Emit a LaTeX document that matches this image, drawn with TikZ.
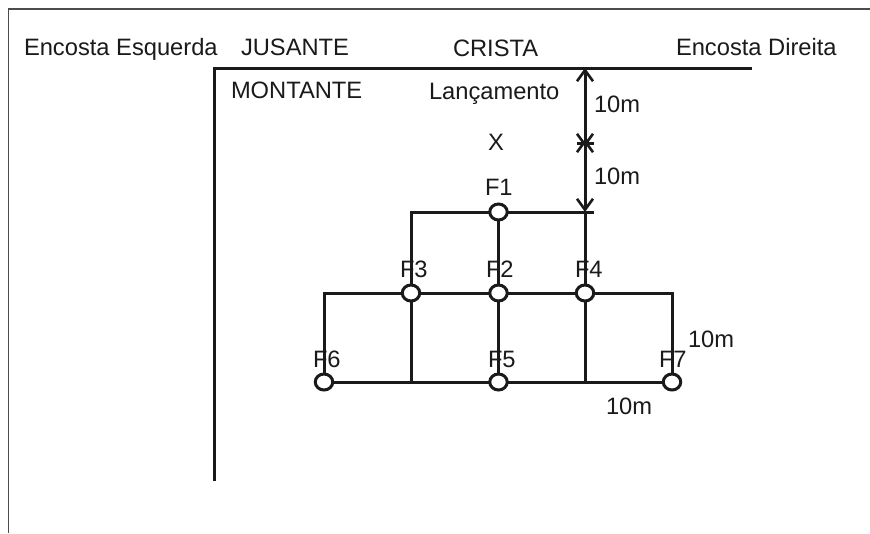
\documentclass[tikz,border=0pt]{standalone}
\usepackage{fontspec}
\setmainfont{Liberation Sans}
\usetikzlibrary{arrows.meta,shapes.geometric}
\definecolor{ink}{HTML}{1A1A1A}
\tikzset{
  lbl/.style={anchor=base west,inner sep=0pt,outer sep=0pt,text=ink,font=\fontsize{23.7}{26}\selectfont},
  wire/.style={draw=ink,line width=3pt},
  hole/.style={ellipse,draw=ink,fill=white,line width=3pt,minimum width=17.5pt,minimum height=16pt,inner sep=0pt,outer sep=0pt},
  dim/.style={wire,{Straight Barb[length=11pt,width=16pt,line width=2.6pt]}-{Straight Barb[length=11pt,width=16pt,line width=2.6pt]}},
  frameline/.style={draw=black!70,line width=1.6pt}
}
\begin{document}
\begin{tikzpicture}[x=1pt,y=-1pt]
\useasboundingbox (0,0) rectangle (870,533);
\fill[white] (0,0) rectangle (870,533);
% corners and free ends
\coordinate (fb) at (8.5,533);
\coordinate (ftl) at (8.5,9);
\coordinate (fr) at (870,9);
\coordinate (wb) at (214,481);
\coordinate (wt) at (214,68);
\coordinate (cr) at (752,68);
\coordinate (crA) at (585,68);
\coordinate (midA) at (585,147);
\coordinate (midB) at (585,139);
\coordinate (midL) at (577,143);
\coordinate (midR) at (594,143);
\coordinate (tee) at (585,212);
\coordinate (teeR) at (594,212);
\coordinate (c1) at (411,212);
\coordinate (l2) at (324,293);
\coordinate (r2) at (672,293);
\coordinate (j3) at (411,381.5);
\coordinate (j4) at (585,381.5);
% holes
\node[hole] (F1) at (498.5,212) {};
\node[hole] (F3) at (411,293) {};
\node[hole] (F2) at (498.5,293) {};
\node[hole] (F4) at (585,293) {};
\node[hole] (F6) at (324,382) {};
\node[hole] (F5) at (498.5,382) {};
\node[hole] (F7) at (672,382) {};
% frame
\draw[frameline] (fb) -- (ftl) -- (fr);
% crest and left wall
\draw[wire] (wb) -- (wt) -- (cr);
% dimension arrows
\draw[dim] (crA) -- (midA);
\draw[dim] (midB) -- (tee);
\draw[wire] (midL) -- (midR);
% network
\draw[wire] (F3) -- (c1) -- (F1);
\draw[wire] (F1) -- (teeR);
\draw[wire] (F1) -- (F2);
\draw[wire] (tee) -- (F4);
\draw[wire] (F3) -- (F2);
\draw[wire] (F2) -- (F4);
\draw[wire] (F3) -- (l2) -- (F6);
\draw[wire] (F4) -- (r2) -- (F7);
\draw[wire] (F6) -- (F5);
\draw[wire] (F5) -- (F7);
\draw[wire] (F2) -- (F5);
\draw[wire] (F3) -- (j3);
\draw[wire] (F4) -- (j4);
% labels
\node[lbl] (t1) at (24,55.5) {Encosta Esquerda};
\node[lbl] (t2) at (241,55.5) {JUSANTE};
\node[lbl] (t3) at (453,56) {CRISTA};
\node[lbl] (t4) at (676,55.5) {Encosta Direita};
\node[lbl] (t5) at (231,98) {MONTANTE};
\node[lbl] (t6) at (429,99) {Lançamento};
\node[lbl] (t7) at (488,150) {X};
\node[lbl] (t8) at (485,195) {F1};
\node[lbl] (t9) at (594,112) {10m};
\node[lbl] (t10) at (594,184) {10m};
\node[lbl] (t11) at (400,277) {F3};
\node[lbl] (t12) at (486,277) {F2};
\node[lbl] (t13) at (575,277) {F4};
\node[lbl] (t14) at (313,367) {F6};
\node[lbl] (t15) at (488,367) {F5};
\node[lbl] (t16) at (659,367) {F7};
\node[lbl] (t17) at (688,347) {10m};
\node[lbl] (t18) at (606,414) {10m};
\end{tikzpicture}
\end{document}
